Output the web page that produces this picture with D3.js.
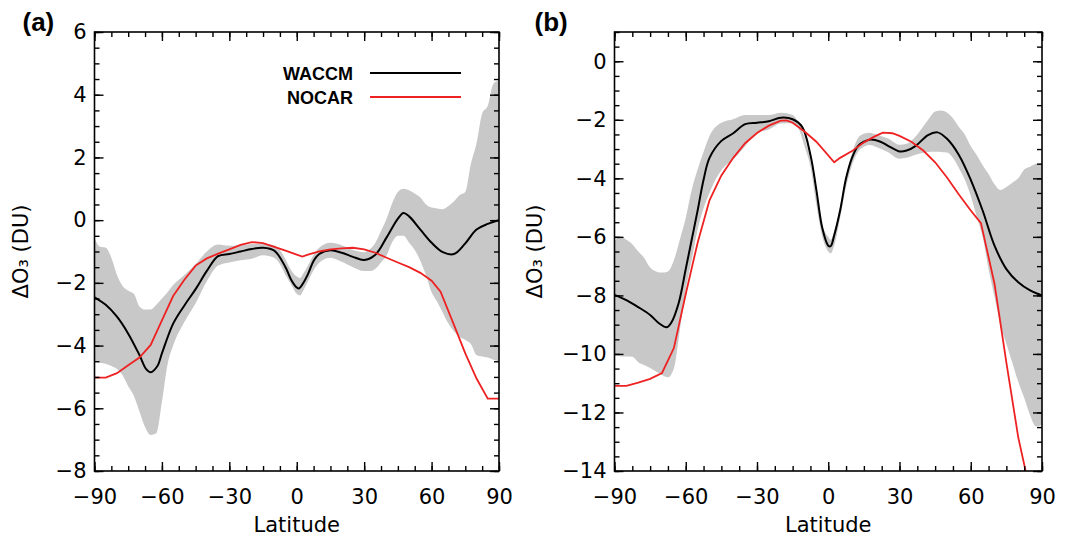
<!DOCTYPE html>
<html>
<head>
<meta charset="utf-8">
<script src="https://cdn.jsdelivr.net/npm/d3@7"></script>
<style>
  body { margin: 0; background: #fff; }
  svg { display: block; }
  .tick text { font-family: "DejaVu Sans", sans-serif; font-size: 21px; fill: #000; }
  .tick line { stroke: #000; stroke-width: 1.4px; }
  .frame { fill: none; stroke: #000; stroke-width: 1.6px; }
  .band { fill: #c8c8c8; stroke: none; }
  .waccm { fill: none; stroke: #000; stroke-width: 2px; }
  .nocar { fill: none; stroke: #ee2222; stroke-width: 1.8px; }
  .axlabel { font-family: "DejaVu Sans", sans-serif; font-size: 21px; }
  .plabel { font-family: "Liberation Sans", Arial, sans-serif; font-size: 26px; font-weight: bold; }
  .legend { font-family: "Liberation Sans", Arial, sans-serif; font-size: 18px; font-weight: bold; }
</style>
</head>
<body>
<svg id="chart" width="1070" height="537"></svg>
<script>

// ---- panel (a) ----
var waccmLatA = [-90, -85, -80, -75, -70, -67, -65, -62, -60, -55, -50, -45, -40, -35, -30, -25, -20, -15, -10, -5, -2.5, 0, 1, 2.5, 5, 7.5, 10, 15, 20, 25, 30, 35, 40, 45, 47.5, 50, 55, 60, 65, 70, 75, 80, 85, 90];
var waccmA = [-2.46, -2.7, -3.08, -3.62, -4.3, -4.75, -4.85, -4.65, -4.25, -3.3, -2.72, -2.2, -1.62, -1.15, -1.08, -1.0, -0.92, -0.88, -0.97, -1.5, -1.9, -2.15, -2.18, -2.05, -1.72, -1.3, -1.08, -0.96, -1.04, -1.17, -1.27, -1.1, -0.55, 0.05, 0.23, 0.12, -0.3, -0.72, -1.02, -1.08, -0.74, -0.3, -0.12, 0.0];

var nocarLatA = [-90, -85, -80, -75, -70, -65, -60, -55, -50, -45, -40, -35, -30, -25, -20, -15, -10, -5, 0, 2.5, 5, 10, 15, 20, 25, 30, 35, 40, 45, 50, 55, 60, 64, 70, 75, 80, 85, 90];
var nocarA = [-5.02, -5.02, -4.88, -4.63, -4.38, -3.98, -3.2, -2.42, -1.9, -1.45, -1.22, -1.07, -0.93, -0.79, -0.7, -0.73, -0.85, -0.97, -1.1, -1.16, -1.1, -1.0, -0.93, -0.9, -0.88, -0.93, -1.04, -1.2, -1.35, -1.5, -1.68, -1.93, -2.28, -3.35, -4.25, -5.05, -5.69, -5.69];

var bandLatA = [-90, -87.5, -85, -82.5, -80, -77.5, -75, -72.5, -70, -67.5, -65, -62.5, -60, -57.5, -55, -50, -45, -40, -35, -30, -25, -20, -15, -10, -7.5, -5, -2.5, 0, 1.5, 2.5, 5, 7.5, 10, 15, 20, 25, 30, 33, 35, 37.5, 40, 42.5, 45, 47.5, 50, 52.5, 55, 57.5, 60, 62.5, 65, 67.5, 70, 72.5, 75, 77.5, 80, 82.5, 85, 87.5, 90];
var bandHiA = [-0.58, -0.85, -0.88, -1.2, -1.75, -2.1, -2.25, -2.35, -2.75, -2.85, -2.85, -2.7, -2.5, -2.3, -2.07, -1.75, -1.4, -1.0, -0.78, -0.82, -0.8, -0.76, -0.76, -0.8, -0.95, -1.25, -1.6, -1.8, -1.85, -1.75, -1.45, -1.1, -0.88, -0.72, -0.8, -0.95, -1.02, -0.9, -0.72, -0.35, 0.05, 0.55, 0.9, 1.0, 0.95, 0.85, 0.72, 0.5, 0.4, 0.37, 0.35, 0.45, 0.6, 0.8, 0.9, 1.8, 2.45, 3.4, 3.65, 4.35, 4.45];
var bandLoA = [-4.5, -4.55, -4.58, -4.65, -4.75, -4.95, -5.3, -5.6, -6.1, -6.6, -6.85, -6.8, -5.8, -4.6, -4.0, -3.25, -2.65, -1.95, -1.45, -1.35, -1.28, -1.23, -1.12, -1.2, -1.4, -1.75, -2.05, -2.35, -2.4, -2.3, -1.95, -1.6, -1.36, -1.2, -1.33, -1.5, -1.62, -1.62, -1.55, -1.35, -1.12, -0.7, -0.5, -0.5, -0.72, -0.95, -1.3, -1.75, -2.3, -2.6, -2.95, -3.3, -3.55, -3.72, -3.82, -3.95, -4.3, -4.35, -4.38, -4.45, -4.5];

// ---- panel (b) ----
var waccmLatB = [-90, -85, -80, -75, -71, -68, -66, -63, -60, -57.5, -55, -52.5, -50, -45, -40, -35, -30, -25, -20, -15, -11, -7.5, -5, -2.5, 0, 1, 2.5, 5, 7.5, 10, 12.5, 15, 18, 22, 25, 30, 33, 37, 42, 46, 50, 55, 60, 65, 70, 75, 80, 85, 90];
var waccmB = [-7.98, -8.16, -8.4, -8.67, -8.97, -9.09, -8.92, -8.27, -7.1, -6.1, -5.1, -4.05, -3.3, -2.72, -2.46, -2.15, -2.1, -2.05, -1.93, -1.98, -2.24, -3.2, -4.4, -5.7, -6.3, -6.32, -5.95, -5.1, -4.0, -3.3, -2.9, -2.75, -2.67, -2.75, -2.88, -3.08, -3.05, -2.88, -2.52, -2.43, -2.65, -3.2, -4.05, -5.1, -6.3, -7.1, -7.55, -7.83, -8.0];

var nocarLatB = [-90, -85, -80, -75, -70, -65, -60, -55, -50, -45, -40, -35, -30, -25, -20, -17.5, -15, -10, -5, 2.5, 5, 10, 15, 20, 23, 27, 30, 35, 40, 45, 50, 55, 60, 64.3, 70, 75, 80, 85];
var nocarB = [-11.09, -11.09, -10.98, -10.85, -10.65, -9.8, -7.95, -6.2, -4.75, -3.9, -3.3, -2.8, -2.45, -2.2, -2.03, -2.02, -2.1, -2.4, -2.75, -3.45, -3.3, -3.07, -2.77, -2.55, -2.44, -2.46, -2.55, -2.75, -3.05, -3.45, -3.97, -4.55, -5.1, -5.53, -7.6, -10.3, -12.85, -14.7];

var bandLatB = [-90, -87.5, -85, -82.5, -80, -77.5, -75, -72.5, -70, -67.5, -65, -62.5, -60, -57.5, -55, -52.5, -50, -47.5, -45, -40, -35, -30, -25, -20, -15, -12.5, -10, -7.5, -5, -2.5, 0, 1, 2.5, 5, 7.5, 10, 12.5, 15, 17.5, 20, 25, 30, 33, 37.5, 42, 45, 47.5, 50, 52.5, 55, 57.5, 60, 62.5, 65, 67.5, 70, 72.5, 75, 77.5, 80, 82.5, 85, 87.5, 90];
var bandHiB = [-6.15, -5.98, -6.1, -6.25, -6.5, -6.72, -7.05, -7.18, -7.22, -7.18, -6.8, -6.1, -5.35, -4.4, -3.7, -3.1, -2.55, -2.25, -2.1, -1.98, -1.84, -1.84, -1.84, -1.76, -1.84, -2.1, -2.6, -3.4, -4.6, -5.6, -6.0, -6.1, -5.8, -4.95, -3.9, -3.15, -2.63, -2.48, -2.44, -2.5, -2.63, -2.85, -2.82, -2.5, -2.01, -1.72, -1.68, -1.75, -1.95, -2.25, -2.5, -2.9, -3.2, -3.55, -3.85, -4.2, -4.4, -4.3, -4.15, -4.0, -3.7, -3.6, -3.5, -3.48];
var bandLoB = [-10.05, -10.08, -10.09, -10.1, -10.28, -10.38, -10.48, -10.6, -10.72, -10.8, -10.5, -9.2, -7.8, -6.8, -5.75, -5.02, -4.5, -4.05, -3.72, -3.35, -2.9, -2.43, -2.33, -2.13, -2.12, -2.3, -2.9, -3.6, -4.9, -6.0, -6.5, -6.56, -6.3, -5.35, -4.3, -3.55, -3.1, -2.92, -2.86, -2.92, -3.1, -3.33, -3.3, -3.18, -3.1, -3.09, -3.1, -3.12, -3.3, -3.65, -4.05, -4.6, -5.3, -6.0, -7.1, -8.05, -9.0, -9.65, -10.3, -10.95, -11.5, -12.1, -12.48, -12.42];

var latTicks = [-90, -60, -30, 0, 30, 60, 90];
var yTicksA = [-8, -6, -4, -2, 0, 2, 4, 6];
var yTicksB = [-14, -12, -10, -8, -6, -4, -2, 0];
var legendNames = ['WACCM', 'NOCAR'];

var svg = d3.select('#chart');

function zip(lat, vals) {
  return lat.map(function (d, i) { return [d, vals[i]]; });
}

function drawPanel(opt) {
  var x = d3.scaleLinear().domain([-90, 90]).range([opt.left, opt.right]);
  var y = d3.scaleLinear().domain(opt.yDomain).range([opt.bottom, opt.top]);
  var g = svg.append('g');

  g.append('clipPath').attr('id', 'clip-' + opt.id)
    .append('rect')
    .attr('x', opt.left).attr('y', opt.top)
    .attr('width', opt.right - opt.left).attr('height', opt.bottom - opt.top);

  var plot = g.append('g').attr('clip-path', 'url(#clip-' + opt.id + ')');

  // spread band
  var area = d3.area()
    .x(function (d) { return x(d[0]); })
    .y0(function (d) { return y(d[1]); })
    .y1(function (d) { return y(d[2]); })
    .curve(d3.curveMonotoneX);
  plot.append('path')
    .attr('class', 'band')
    .datum(opt.bandLat.map(function (d, i) { return [d, opt.bandLo[i], opt.bandHi[i]]; }))
    .attr('d', area);

  var smooth = d3.line()
    .x(function (d) { return x(d[0]); })
    .y(function (d) { return y(d[1]); })
    .curve(d3.curveCatmullRom.alpha(0.5));
  var straight = d3.line()
    .x(function (d) { return x(d[0]); })
    .y(function (d) { return y(d[1]); });

  plot.append('path').attr('class', 'waccm')
    .datum(zip(opt.waccmLat, opt.waccm)).attr('d', smooth);
  plot.append('path').attr('class', 'nocar')
    .datum(zip(opt.nocarLat, opt.nocar)).attr('d', straight);

  // minor ticks on all sides
  var xMinor = d3.range(-90, 90.01, 7.5);
  var yMinor = d3.range(opt.yDomain[0], opt.yDomain[1] + 0.01, 0.5);

  g.append('g').attr('transform', 'translate(0,' + opt.bottom + ')')
    .call(d3.axisBottom(x).tickValues(xMinor).tickFormat('').tickSize(-5));
  g.append('g').attr('transform', 'translate(0,' + opt.top + ')')
    .call(d3.axisTop(x).tickValues(xMinor).tickFormat('').tickSize(-5));
  g.append('g').attr('transform', 'translate(' + opt.left + ',0)')
    .call(d3.axisLeft(y).tickValues(yMinor).tickFormat('').tickSize(-5));
  g.append('g').attr('transform', 'translate(' + opt.right + ',0)')
    .call(d3.axisRight(y).tickValues(yMinor).tickFormat('').tickSize(-5));

  // major ticks
  g.append('g').attr('transform', 'translate(0,' + opt.bottom + ')')
    .call(d3.axisBottom(x).tickValues(latTicks).tickSize(-9).tickPadding(18));
  g.append('g').attr('transform', 'translate(0,' + opt.top + ')')
    .call(d3.axisTop(x).tickValues(latTicks).tickFormat('').tickSize(-9));
  g.append('g').attr('transform', 'translate(' + opt.left + ',0)')
    .call(d3.axisLeft(y).tickValues(opt.yTicks).tickSize(-9).tickPadding(8));
  g.append('g').attr('transform', 'translate(' + opt.right + ',0)')
    .call(d3.axisRight(y).tickValues(opt.yTicks).tickFormat('').tickSize(-9));

  g.selectAll('.domain').remove();

  g.append('rect').attr('class', 'frame')
    .attr('x', opt.left).attr('y', opt.top)
    .attr('width', opt.right - opt.left).attr('height', opt.bottom - opt.top);

  // labels
  g.append('text').attr('class', 'axlabel')
    .attr('x', (opt.left + opt.right) / 2).attr('y', 532)
    .attr('text-anchor', 'middle')
    .text('Latitude');

  g.append('text').attr('class', 'axlabel')
    .attr('transform', 'translate(' + (opt.left - opt.yLabelOff) + ',' + (opt.top + opt.bottom) / 2 + ') rotate(-90)')
    .attr('text-anchor', 'middle')
    .text('ΔO₃ (DU)');

  g.append('text').attr('class', 'plabel')
    .attr('x', opt.left - opt.tagOff).attr('y', 31)
    .text(opt.tag);

  return {x: x, y: y, g: g};
}

var pa = drawPanel({
  id: 'a', tag: '(a)', tagOff: 72, yLabelOff: 67,
  left: 94.5, right: 499, top: 32, bottom: 471,
  yDomain: [-8, 6], yTicks: yTicksA,
  waccmLat: waccmLatA, waccm: waccmA,
  nocarLat: nocarLatA, nocar: nocarA,
  bandLat: bandLatA, bandHi: bandHiA, bandLo: bandLoA
});

drawPanel({
  id: 'b', tag: '(b)', tagOff: 80, yLabelOff: 73,
  left: 614.5, right: 1042, top: 32, bottom: 471,
  yDomain: [-14, 1], yTicks: yTicksB,
  waccmLat: waccmLatB, waccm: waccmB,
  nocarLat: nocarLatB, nocar: nocarB,
  bandLat: bandLatB, bandHi: bandHiB, bandLo: bandLoB
});

// legend in panel (a)
var legend = pa.g.append('g');
legendNames.forEach(function (name, i) {
  var ly = 73 + i * 24;
  legend.append('text').attr('class', 'legend')
    .attr('x', 353).attr('y', ly + 6.5)
    .attr('text-anchor', 'end')
    .text(name);
  legend.append('line')
    .attr('class', i === 0 ? 'waccm' : 'nocar')
    .attr('x1', 370).attr('x2', 461)
    .attr('y1', ly).attr('y2', ly);
});

</script>
</body>
</html>
